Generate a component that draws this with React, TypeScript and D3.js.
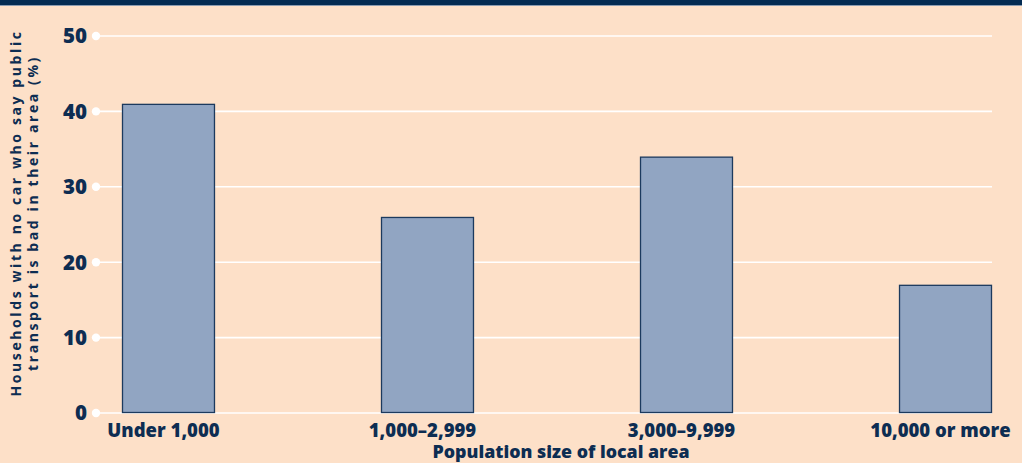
import React, { useEffect, useRef } from 'react';
import * as d3 from 'd3';

const categories = ['Under 1,000', '1,000–2,999', '3,000–9,999', '10,000 or more'];
const values = [41, 26, 34, 17];
const yTicks = [0, 10, 20, 30, 40, 50];
const yTitleLines = ['Households with no car who say public', 'transport is bad in their area (%)'];
const xTitle = 'Population size of local area';

const NAVY = '#0d2d52';
const PEACH = '#fde0c8';
const FONT = '"Open Sans", Lato, sans-serif';

export default function App() {
  const svgRef = useRef<SVGSVGElement>(null);

  useEffect(() => {
    if (!svgRef.current) return;
    const width = 1022;
    const height = 463;
    const svg = d3.select(svgRef.current);
    svg.selectAll('*').remove();

    svg.append('rect').attr('width', width).attr('height', height).attr('fill', PEACH);
    // top banner
    svg.append('rect').attr('width', width).attr('height', 5).attr('fill', '#032b52');
    svg.append('rect').attr('y', 5).attr('width', width).attr('height', 1).attr('fill', '#8a9bb0');

    const x = d3.scaleBand<string>()
      .domain(categories)
      .range([122, 992])
      .paddingInner(0.641)
      .paddingOuter(0);

    const y = d3.scaleLinear().domain([0, 50]).range([413, 36]);

    // grid lines
    svg.append('g')
      .selectAll('line')
      .data(yTicks)
      .enter()
      .append('line')
      .attr('x1', 96)
      .attr('x2', 992)
      .attr('y1', (d) => y(d))
      .attr('y2', (d) => y(d))
      .attr('stroke', '#ffffff')
      .attr('stroke-width', 1.6);

    svg.append('g')
      .selectAll('circle')
      .data(yTicks)
      .enter()
      .append('circle')
      .attr('cx', 96)
      .attr('cy', (d) => y(d))
      .attr('r', 4.2)
      .attr('fill', '#ffffff');

    svg.append('g')
      .selectAll('text')
      .data(yTicks)
      .enter()
      .append('text')
      .attr('x', 87)
      .attr('y', (d) => y(d))
      .attr('dy', '0.36em')
      .attr('text-anchor', 'end')
      .attr('font-family', FONT)
      .attr('font-weight', 800)
      .attr('font-size', 20.5)
      .attr('fill', NAVY)
      .text((d) => d);

    // bars
    svg.append('g')
      .selectAll('rect')
      .data(values)
      .enter()
      .append('rect')
      .attr('x', (_d, i) => (x(categories[i]) || 0) + 0.5)
      .attr('y', (d) => y(d) + 0.5)
      .attr('width', x.bandwidth() - 1)
      .attr('height', (d) => y(0) - y(d) - 1)
      .attr('fill', '#91a5c2')
      .attr('stroke', '#1c3a5e')
      .attr('stroke-width', 1.3);

    // category labels
    svg.append('g')
      .selectAll('text')
      .data(categories)
      .enter()
      .append('text')
      .attr('x', (d) => (x(d) || 0) + x.bandwidth() / 2 - 5)
      .attr('y', 437)
      .attr('text-anchor', 'middle')
      .attr('font-family', FONT)
      .attr('font-weight', 800)
      .attr('font-size', 18.5)
      .attr('fill', NAVY)
      .text((d) => d);

    svg.append('text')
      .attr('x', 561)
      .attr('y', 458)
      .attr('text-anchor', 'middle')
      .attr('font-family', FONT)
      .attr('font-weight', 800)
      .attr('font-size', 17.8)
      .attr('fill', NAVY)
      .text(xTitle);

    // y title
    const yt = svg.append('text')
      .attr('transform', 'translate(0,213) rotate(-90)')
      .attr('text-anchor', 'middle')
      .attr('font-family', FONT)
      .attr('font-weight', 700)
      .attr('font-size', 14)
      .attr('letter-spacing', '2.6px')
      .attr('fill', NAVY);
    yTitleLines.forEach((line, i) => {
      yt.append('tspan').attr('x', 0).attr('y', 21 + i * 17).text(line);
    });
  }, []);

  return (
    <svg
      ref={svgRef}
      width={1022}
      height={463}
      style={{ position: 'absolute', left: 0, top: 0, display: 'block' }}
    />
  );
}
